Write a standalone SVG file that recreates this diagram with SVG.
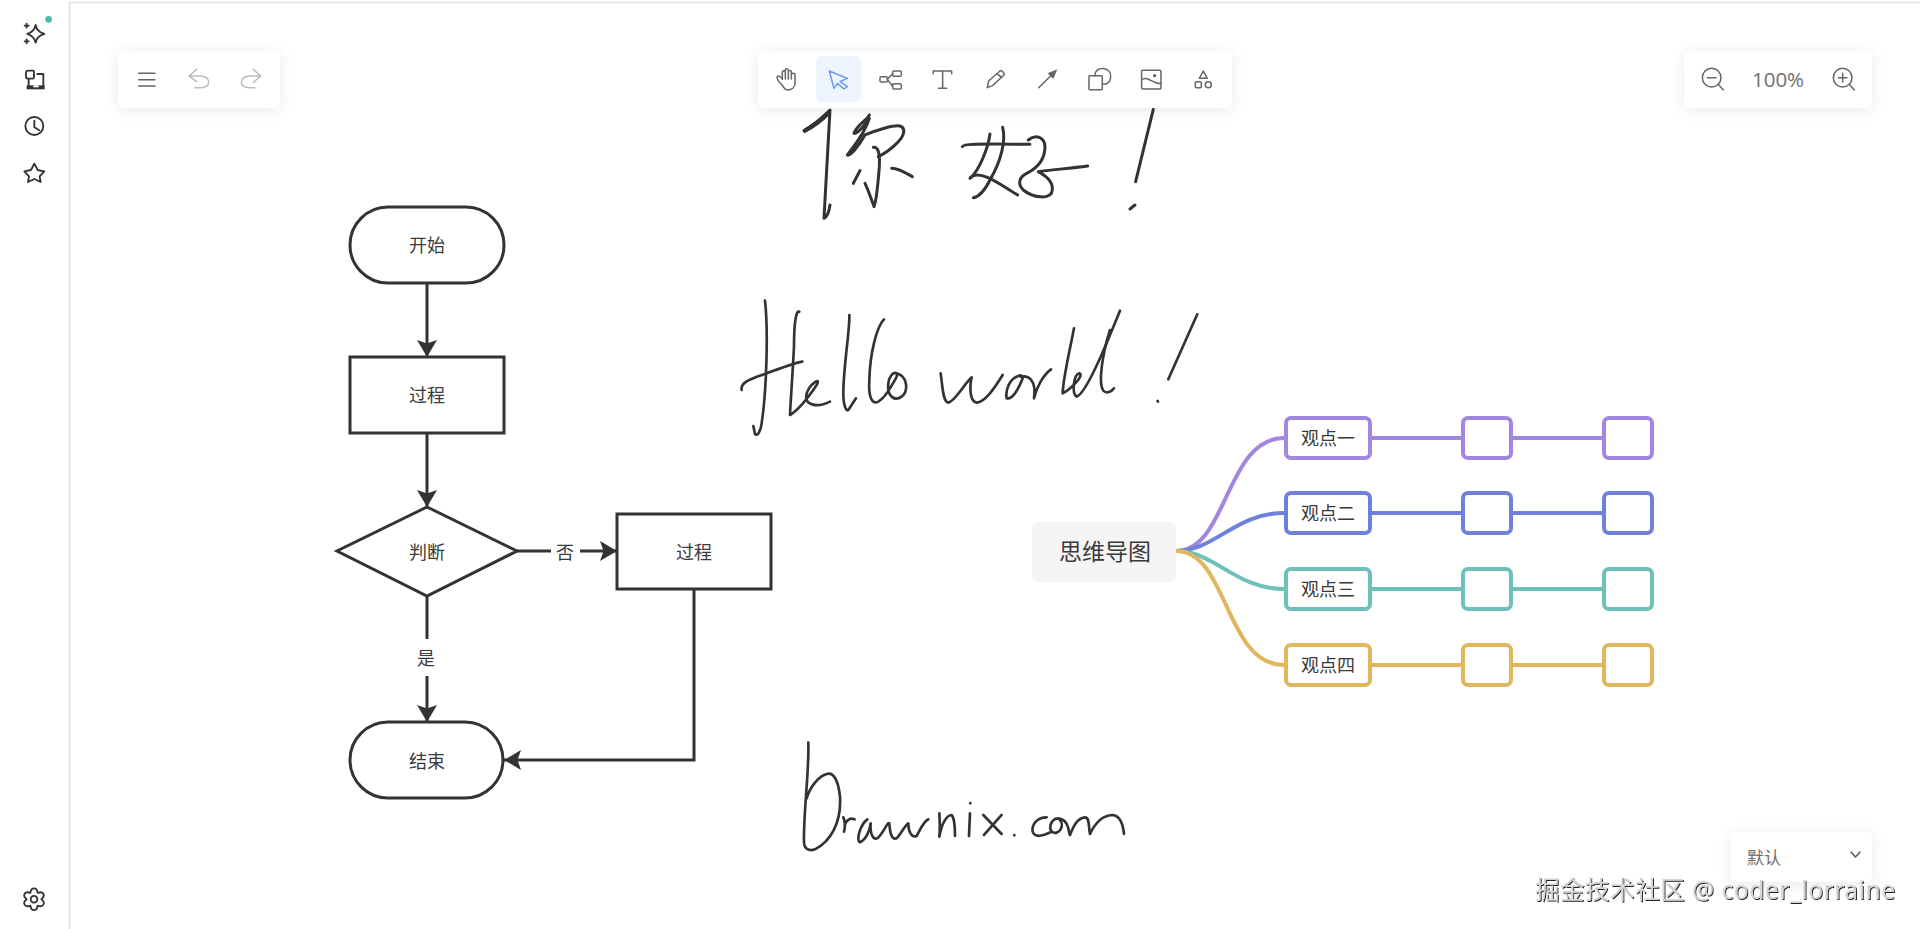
<svg xmlns="http://www.w3.org/2000/svg" width="1920" height="929" viewBox="0 0 1920 929">
<style>
text{font-family:"Noto Sans CJK SC","Noto Sans",sans-serif;fill:#3a3a3a}
.ln{fill:none;stroke:#333;stroke-width:3}
.sh{fill:#fff;stroke:#333;stroke-width:3}
.ink{fill:none;stroke:#333;stroke-width:9;stroke-linecap:round;stroke-linejoin:round}
.f{font-size:18px;text-anchor:middle}
.m{font-size:18px;text-anchor:middle}
.p{fill:#fff;filter:url(#sd)}
.ic{fill:none;stroke:#666;stroke-width:4.5;stroke-linecap:round;stroke-linejoin:round}
.sb{fill:none;stroke:#333;stroke-width:5.5;stroke-linecap:round;stroke-linejoin:round}
.nd{fill:#fff;stroke-width:4}
.lk{fill:none;stroke-width:4;stroke-linecap:round}
</style>
<defs>
<filter id="sd" x="-30%" y="-50%" width="160%" height="220%"><feDropShadow dx="0" dy="2" stdDeviation="7" flood-color="#000" flood-opacity=".09"/></filter>
<filter id="wm" x="-5%" y="-20%" width="110%" height="140%"><feDropShadow dx="1" dy="1" stdDeviation=".4" flood-color="#222" flood-opacity="1"/></filter>
<marker id="ar" markerUnits="userSpaceOnUse" markerWidth="22" markerHeight="22" refX="17" refY="10.500" orient="auto"><path d="M0 0.500L17 10.500L0 20.500L3.500 10.500Z" fill="#333"/></marker>
</defs>
<rect width="1920" height="929" fill="#fff"/>
<path d="M69.500 929V2.500H1920" fill="none" stroke="#e2e2e2" stroke-width="1.500"/>

<g id="handwriting-hello-cn" transform="translate(750 40) scale(.3333)" class="ink">
<path style="stroke-width:13" d="M165 272C190 258 215 240 232 222"/>
<path d="M162 272C190 255 225 225 240 210C236 300 228 420 222 535C232 530 238 510 240 495"/>
<path d="M358 225C352 240 320 255 312 280C320 285 350 250 358 235C345 280 310 320 292 345C300 350 325 320 345 285C380 270 430 255 450 258C470 265 462 290 440 310C425 325 405 340 385 350"/>
<path d="M370 322C385 320 390 340 388 380C385 420 380 480 372 500C365 480 355 450 345 430"/>
<path d="M330 392L310 430"/>
<path d="M425 385C445 385 470 400 487 410"/>
<path d="M637 320C640 310 700 312 840 313"/>
<path d="M720 282C715 320 690 390 660 415"/>
<path d="M758 262C768 300 755 360 720 420C705 450 690 470 670 473"/>
<path d="M662 412C690 385 760 440 803 465"/>
<path d="M835 300C860 280 885 295 885 320C885 360 860 385 830 400C810 410 800 430 820 450C850 475 905 480 907 450C910 420 880 405 865 395C900 390 960 385 1013 378"/>
<path d="M1210 208L1157 425"/>
<path d="M1140 507L1155 495"/>
</g>

<g id="handwriting-hello-en" transform="translate(720 280) scale(.3333)" class="ink" style="stroke-width:8">
<path d="M135 62C145 150 140 330 125 430C122 455 112 470 105 462L100 438"/>
<path d="M65 330C60 305 100 295 140 280C180 265 220 250 247 245"/>
<path d="M238 95C228 90 222 130 222 200C218 280 212 360 210 405C235 390 270 345 290 315C305 290 270 310 260 340C250 375 290 385 330 365"/>
<path d="M388 105C390 150 370 260 370 340C370 375 378 395 385 390L408 355"/>
<path d="M492 118C470 140 450 220 448 300C445 350 455 375 475 365C500 350 515 315 525 300C545 270 510 270 505 310C500 350 525 365 545 350C565 335 565 290 530 280"/>
<path d="M1432 103L1345 298"/>
<path d="M1313 363L1314 365"/>
</g>
<g id="handwriting-world" transform="translate(930 300) scale(.3333)" class="ink" style="stroke-width:8">
<path d="M32 220C38 260 38 305 55 308C75 305 100 255 125 232C118 265 120 305 140 308C165 305 190 270 218 225"/>
<path d="M265 228C240 235 225 270 230 295C245 300 265 270 278 235C278 225 270 225 265 228"/>
<path d="M272 230C295 225 320 240 312 295C320 260 340 225 363 208"/>
<path d="M432 85C420 150 400 230 398 280C420 270 465 225 448 220C430 225 425 280 440 290C470 280 530 130 570 32"/>
<path d="M540 90C515 170 505 250 520 272C530 282 545 275 552 265"/>
</g>

<g id="handwriting-drawnix" transform="translate(780 730) scale(.3333)" class="ink" style="stroke-width:8">
<path d="M85 38C88 120 70 250 72 335C72 355 85 365 105 358C150 335 185 280 180 200C175 150 160 125 140 132C115 140 90 170 80 205"/>
<path d="M190 262C196 275 196 290 192 305M194 284C202 268 212 262 224 268"/>
<path d="M262 268C240 285 228 330 240 337C258 330 270 300 272 280C270 310 278 330 292 325C310 310 322 275 328 280C330 310 335 330 350 325C365 310 375 285 385 280C385 305 395 325 410 318C420 300 430 275 445 268"/>
<path d="M478 250C480 280 480 300 478 320C485 280 500 255 515 255C525 265 525 300 525 318"/>
<path d="M570 250L567 318M571 219L571 220"/>
<path d="M610 255L665 312M665 255L612 315"/>
<path d="M703 315L703 316"/>
<path d="M800 262C770 262 755 285 758 305C765 325 790 318 815 305"/>
<path d="M835 265C815 265 805 290 815 305C835 320 860 285 835 265C870 270 865 310 870 315C880 290 890 265 915 262C930 262 925 290 930 312C945 280 965 255 1000 255C1025 260 1030 290 1032 312"/>
</g>

<g id="connectors">
<path class="ln" marker-end="url(#ar)" d="M427 283V357"/>
<path class="ln" marker-end="url(#ar)" d="M427 433V507"/>
<path class="ln" d="M517 551H551"/>
<path class="ln" marker-end="url(#ar)" d="M580 551H617"/>
<path class="ln" d="M427 596V639"/>
<path class="ln" marker-end="url(#ar)" d="M427 676V722"/>
<path class="ln" marker-end="url(#ar)" d="M694 589V760H504"/>
<g class="lk" style="stroke:#a287e1"><path d="M1176 551C1228 551 1225 438 1284 438"/><path d="M1371 438H1461M1512 438H1603"/></g>
<g class="lk" style="stroke:#6f81db"><path d="M1176 551C1215 551 1235 513 1284 513"/><path d="M1371 513H1461M1512 513H1603"/></g>
<g class="lk" style="stroke:#6ec0b8"><path d="M1176 551C1215 551 1235 589 1284 589"/><path d="M1371 589H1461M1512 589H1603"/></g>
<g class="lk" style="stroke:#e0b75e"><path d="M1176 551C1228 551 1225 665 1284 665"/><path d="M1371 665H1461M1512 665H1603"/></g>
</g>

<g id="start"><rect class="sh" x="350" y="207" width="154" height="76" rx="38"/><text class="f" x="427" y="252">开始</text></g>
<g id="process1"><rect class="sh" x="350" y="357" width="154" height="76"/><text class="f" x="427" y="402">过程</text></g>
<g id="decision"><path class="sh" d="M427 507L517 551L427 596L337 551Z"/><text class="f" x="427" y="559">判断</text></g>
<g id="process2"><rect class="sh" x="617" y="514" width="154" height="75"/><text class="f" x="694" y="559">过程</text></g>
<g id="end"><rect class="sh" x="350" y="722" width="153" height="76" rx="38"/><text class="f" x="427" y="768">结束</text></g>
<g id="label-no"><text class="m" x="565" y="559">否</text></g>
<g id="label-yes"><text class="m" x="426" y="665">是</text></g>

<g id="mind-root"><rect x="1032" y="522" width="144" height="60" rx="6" fill="#f5f5f5"/><text x="1105" y="560" font-size="23" text-anchor="middle">思维导图</text></g>
<g id="mind-1" stroke="#a287e1"><rect class="nd" x="1286" y="418" width="84" height="40" rx="5"/><text stroke="none" class="m" x="1328" y="445">观点一</text></g>
<g id="mind-1a" stroke="#a287e1"><rect class="nd" x="1463" y="418" width="48" height="40" rx="5"/></g>
<g id="mind-1b" stroke="#a287e1"><rect class="nd" x="1604" y="418" width="48" height="40" rx="5"/></g>
<g id="mind-2" stroke="#6f81db"><rect class="nd" x="1286" y="493" width="84" height="40" rx="5"/><text stroke="none" class="m" x="1328" y="520">观点二</text></g>
<g id="mind-2a" stroke="#6f81db"><rect class="nd" x="1463" y="493" width="48" height="40" rx="5"/></g>
<g id="mind-2b" stroke="#6f81db"><rect class="nd" x="1604" y="493" width="48" height="40" rx="5"/></g>
<g id="mind-3" stroke="#6ec0b8"><rect class="nd" x="1286" y="569" width="84" height="40" rx="5"/><text stroke="none" class="m" x="1328" y="596">观点三</text></g>
<g id="mind-3a" stroke="#6ec0b8"><rect class="nd" x="1463" y="569" width="48" height="40" rx="5"/></g>
<g id="mind-3b" stroke="#6ec0b8"><rect class="nd" x="1604" y="569" width="48" height="40" rx="5"/></g>
<g id="mind-4" stroke="#e0b75e"><rect class="nd" x="1286" y="645" width="84" height="40" rx="5"/><text stroke="none" class="m" x="1328" y="672">观点四</text></g>
<g id="mind-4a" stroke="#e0b75e"><rect class="nd" x="1463" y="645" width="48" height="40" rx="5"/></g>
<g id="mind-4b" stroke="#e0b75e"><rect class="nd" x="1604" y="645" width="48" height="40" rx="5"/></g>

<g id="sidebar" transform="scale(.3333)">
<circle cx="146" cy="58" r="10" fill="#4fb8b0"/>
<path class="sb" d="M107 75C110 92 120 98 133 102C120 106 110 112 107 128C103 112 95 106 82 102C95 98 103 92 107 75ZM80 71V83M74 77H86M80 118V130M74 124H86"/>
<path class="sb" d="M85 212H100Q102 212 102 215V232Q102 236 98 236H85Q78 236 78 230V218Q78 212 85 212ZM112 222H130V258M86 258V240"/>
<path d="M80 256H134V268H80Z" fill="#333"/><path d="M100 256H116V262H100Z" fill="#fff"/>
<circle class="sb" cx="103" cy="378" r="27"/><path class="sb" d="M103 362V382L118 391"/>
<path class="sb" d="M103 491L113 510L133 514L119 529L122 546L103 537L84 546L87 529L73 514L93 510Z"/>
<g transform="translate(102 2698)" class="sb"><circle r="10"/><path d="M-11 -19C-8.500 -37 8.500 -37 11 -19C27.800 -25.900 36.300 -11.100 22 0C36.300 11.100 27.800 25.900 11 19C8.500 37 -8.500 37 -11 19C-27.800 25.900 -36.300 11.100 -22 0C-36.300 -11.100 -27.800 -25.900 -11 -19Z"/></g>
</g>

<g id="panel-left"><rect class="p" x="118" y="51" width="162" height="57" rx="6"/>
<g transform="scale(.3333)" class="ic"><path d="M416 220H465M416 239H465M416 258H465"/><path style="stroke:#bbb" d="M590 208L567 228L590 245M567 228H600C635 228 635 265 600 263H585"/><path style="stroke:#bbb" d="M760 208L782 228L760 247M782 228H750C715 228 715 265 750 263H765"/></g></g>

<g id="panel-tools"><rect class="p" x="758" y="51" width="474" height="57" rx="6"/>
<rect x="816" y="56" width="45" height="46" rx="6" fill="#edf4fe"/>
<g transform="translate(750 45) scale(.3333)" class="ic">
<path d="M95 118C85 110 80 100 82 94C88 90 96 100 97 103L97 82C97 76 105 76 106 82L106 76C106 70 114 70 115 76L115 80C116 75 124 75 124 80L124 88C125 84 134 84 135 88L135 115C135 128 125 135 112 135C105 135 100 125 95 118ZM106 82V102M115 78V102M124 84V102"/>
<path style="stroke:#6b9be8" d="M238 78L292 100L270 110L292 125L282 132L262 115L252 130Z"/>
<rect x="390" y="95" width="22" height="16" rx="4"/><rect x="428" y="78" width="26" height="16" rx="4"/><rect x="428" y="116" width="26" height="16" rx="4"/><path d="M412 103L428 86M412 103L428 124"/>
<path d="M550 86V78H605V86M578 78V130M565 130H590"/>
<path d="M712 128L716 108L750 78C755 75 765 85 762 90L728 122ZM742 86L755 98"/>
<path d="M866 128L905 90"/><path d="M922 73L893 85L910 102Z" fill="#666" stroke="none"/>
<rect x="1017" y="92" width="40" height="42" rx="3"/><path d="M1035 92C1035 60 1085 65 1082 95C1082 112 1070 118 1057 118"/>
<rect x="1175" y="76" width="58" height="56" rx="3"/><path d="M1175 105C1195 90 1210 120 1233 115"/><circle cx="1214" cy="92" r="5" fill="#666" stroke="none"/>
<path d="M1360 78L1372 100H1348Z"/><rect x="1336" y="110" width="18" height="18" rx="3"/><circle cx="1375" cy="119" r="9"/>
</g></g>

<g id="panel-zoom"><rect class="p" x="1684" y="51" width="188" height="57" rx="6"/>
<g transform="translate(1660 30) scale(.3333)" class="ic"><circle cx="155" cy="143" r="28"/><path d="M176 164L190 180M142 143H168"/><circle cx="548" cy="143" r="28"/><path d="M569 164L583 180M535 143H561M548 130V156"/></g>
<text x="1778" y="87" font-size="20.500" text-anchor="middle" style="fill:#707070;font-family:'Open Sans','Noto Sans',sans-serif">100%</text></g>

<g id="panel-theme"><rect class="p" x="1731" y="832" width="141" height="50" rx="6"/>
<text x="1747" y="864" font-size="17" style="fill:#707070">默认</text>
<path d="M1851 852L1855.500 857L1860 852" fill="none" stroke="#555" stroke-width="1.500" stroke-linecap="round" stroke-linejoin="round"/></g>

<text id="watermark" x="1535" y="899" font-size="24.500" textLength="360" filter="url(#wm)" style="fill:#d4d4d4;font-family:'Noto Sans','Noto Sans CJK SC',sans-serif">掘金技术社区 @ coder_lorraine</text>
</svg>
